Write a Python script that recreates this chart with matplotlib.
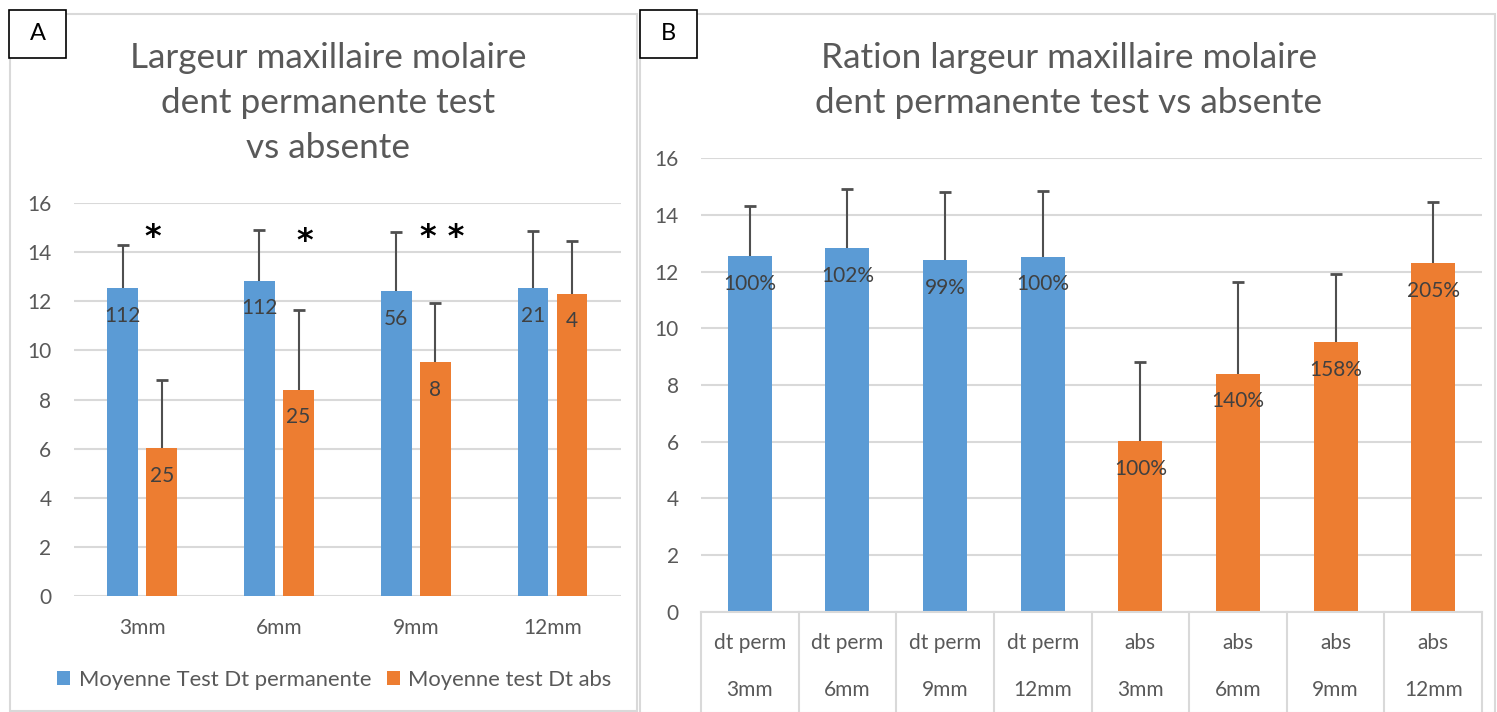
import numpy as np
import matplotlib.pyplot as plt
from matplotlib.patches import Rectangle
from matplotlib.lines import Line2D

# data
depths = ['3mm', '6mm', '9mm', '12mm']
mean_perm = [12.54, 12.84, 12.42, 12.53]
sd_perm = [1.76, 2.06, 2.40, 2.33]
mean_abs = [6.03, 8.40, 9.52, 12.31]
sd_abs = [2.77, 3.23, 2.41, 2.14]
n_perm = ['112', '112', '56', '21']
n_abs = ['25', '25', '8', '4']
stars = ['*', '*', '* *', '']
ratio_perm = ['100%', '102%', '99%', '100%']
ratio_abs = ['100%', '140%', '158%', '205%']
legend_labels = ['Moyenne Test Dt permanente', 'Moyenne test Dt abs']

W, H = 1497, 712
BLUE = '#5B9BD5'
ORANGE = '#ED7D31'
GRID = '#D9D9D9'
TXT = '#595959'
LBL = '#404040'
ERR = '#4F4F4F'

plt.rcParams['font.family'] = ['Lato', 'DejaVu Sans']

fig = plt.figure(figsize=(W / 100, H / 100), dpi=100)

def fx(x):
    return x / W

def fy(y):
    return 1 - y / H

def rect_px(x0, y0, x1, y1):
    return [fx(x0), fy(y1), fx(x1) - fx(x0), fy(y0) - fy(y1)]

def up_err(ax, xs, tops, sds):
    # only the plus side, cap at the top only
    ends = np.array(tops) + np.array(sds)
    ax.vlines(xs, tops, ends, color=ERR, lw=1.5, zorder=3)
    ax.plot(xs, ends, ls='none', marker='_', ms=9, mew=2, color=ERR, zorder=3)

# panel frames
for (x0, y0, x1, y1) in [(10, 14, 637, 711), (640, 14, 1495, 713)]:
    fig.add_artist(Rectangle((fx(x0), fy(y1)), fx(x1) - fx(x0), fy(y0) - fy(y1),
                             transform=fig.transFigure, fill=False, ec=GRID, lw=1.5))
for (x0, letter) in [(9, 'A'), (640, 'B')]:
    fig.add_artist(Rectangle((fx(x0), fy(58)), fx(57), fy(10) - fy(58),
                             transform=fig.transFigure, fc='white', ec='black', lw=1.2))
    fig.text(fx(x0 + 28.5), fy(34), letter, ha='center', va='center', fontsize=17, color='black')

# ---------------- panel A ----------------
axA = fig.add_axes(rect_px(73.7, 203, 621, 596))
x = np.arange(len(depths))
bw = 0.224
off = 0.143
axA.bar(x - off, mean_perm, bw, color=BLUE, zorder=2, label=legend_labels[0])
axA.bar(x + off, mean_abs, bw, color=ORANGE, zorder=2, label=legend_labels[1])
up_err(axA, x - off, mean_perm, sd_perm)
up_err(axA, x + off, mean_abs, sd_abs)
for i in range(len(depths)):
    axA.annotate(n_perm[i], (x[i] - off, mean_perm[i]), xytext=(0, -20), textcoords='offset points',
                 ha='center', va='center', fontsize=15, color=LBL, zorder=4)
    axA.annotate(n_abs[i], (x[i] + off, mean_abs[i]), xytext=(0, -20), textcoords='offset points',
                 ha='center', va='center', fontsize=15, color=LBL, zorder=4)
star_dx = [0.077, 0.19, 0.19, 0.0]
star_y = [14.6, 14.45, 14.6, 14.6]
for i in range(len(depths)):
    if stars[i]:
        axA.text(x[i] + star_dx[i], star_y[i], stars[i], ha='center', va='center',
                 fontsize=23, fontweight='bold', color='black', family='DejaVu Sans')
axA.set_xlim(-0.5, 3.5)
axA.set_ylim(0, 16)
axA.set_yticks(np.arange(0, 17, 2))
axA.set_xticks([])
axA.yaxis.grid(True, color=GRID, lw=1.5, zorder=0)
axA.set_axisbelow(True)
for s in axA.spines.values():
    s.set_visible(False)
axA.tick_params(axis='y', length=0, pad=16, labelsize=15, labelcolor=TXT)
for i, d in enumerate(depths):
    axA.text(x[i], -0.0814, d, transform=axA.get_xaxis_transform(), ha='center', va='center',
             fontsize=15, color=TXT)
axA.legend(loc='center', bbox_to_anchor=(0.476, -0.2137), ncol=2, frameon=False,
           fontsize=15.8, labelcolor=TXT, handlelength=0.6, handleheight=0.6,
           handletextpad=0.4, columnspacing=0.7)

for i, line in enumerate(['Largeur maxillaire molaire', 'dent permanente test', 'vs absente']):
    fig.text(fx(328.5), fy(68 + 45 * i), line, ha='center', va='baseline', fontsize=25.3, color=TXT)

# ---------------- panel B ----------------
axB = fig.add_axes(rect_px(701, 158.3, 1482, 611.7))
vals = mean_perm + mean_abs
sds = sd_perm + sd_abs
cols = [BLUE] * 4 + [ORANGE] * 4
labs = ratio_perm + ratio_abs
xb = np.arange(len(vals))
axB.bar(xb, vals, 0.45, color=cols, zorder=2)
up_err(axB, xb, vals, sds)
for i in range(len(vals)):
    axB.annotate(labs[i], (xb[i], vals[i]), xytext=(0, -20), textcoords='offset points',
                 ha='center', va='center', fontsize=15, color=LBL, zorder=4)
axB.set_xlim(-0.5, 7.5)
axB.set_ylim(0, 16)
axB.set_yticks(np.arange(0, 17, 2))
axB.set_xticks([])
axB.yaxis.grid(True, color=GRID, lw=1.5, zorder=0)
axB.set_axisbelow(True)
for s in axB.spines.values():
    s.set_visible(False)
axB.tick_params(axis='y', length=0, pad=16, labelsize=15, labelcolor=TXT)
row1 = ['dt perm'] * 4 + ['abs'] * 4
row2 = depths + depths
tr = axB.get_xaxis_transform()
for i in range(len(vals)):
    axB.text(xb[i], -0.069, row1[i], transform=tr, ha='center', va='center', fontsize=15, color=TXT)
    axB.text(xb[i], -0.173, row2[i], transform=tr, ha='center', va='center', fontsize=15, color=TXT)
for b in np.arange(-0.5, 8.0, 1.0):
    axB.add_line(Line2D([b, b], [0, -0.23], transform=tr, color=GRID, lw=1.5, clip_on=False))
axB.add_line(Line2D([-0.5, 7.5], [0, 0], transform=tr, color=GRID, lw=1.5, clip_on=False))

for i, line in enumerate(['Ration largeur maxillaire molaire', 'dent permanente test vs absente']):
    fig.text(fx(1069), fy(68 + 45 * i), line, ha='center', va='baseline', fontsize=25.3, color=TXT)

fig.savefig('out.png', dpi=100)
